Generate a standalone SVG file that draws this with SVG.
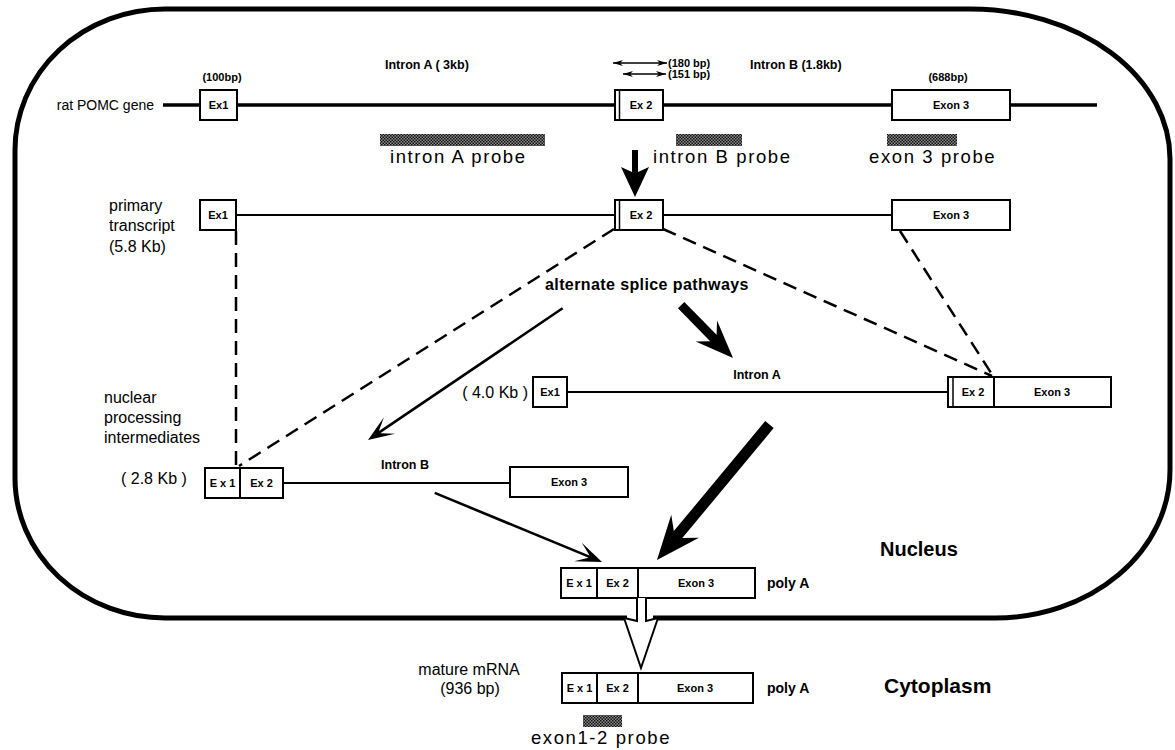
<svg xmlns="http://www.w3.org/2000/svg" width="1175" height="750" viewBox="0 0 1175 750">
<style>
.b{font-family:"Liberation Sans",Arial,sans-serif;font-weight:bold;fill:#000}
.r{font-family:"Liberation Sans",Arial,sans-serif;fill:#000}
.bx{font-size:11px;text-anchor:middle}
.box{fill:#fff;stroke:#000;stroke-width:2}
.ln{stroke:#000;fill:none}
.dash{stroke:#000;stroke-width:2.5;fill:none;stroke-dasharray:14 8}
.pr{font-size:18.5px;letter-spacing:1.6px}
</style>
<defs>
<pattern id="hatch" width="3" height="3" patternUnits="userSpaceOnUse">
<rect width="3" height="3" fill="#8a8a8a"/>
<rect width="1.5" height="1.5" fill="#111"/>
<rect x="1.5" y="1.5" width="1.5" height="1.5" fill="#111"/>
</pattern>
<marker id="dh" viewBox="0 0 10 6" refX="10" refY="3" markerWidth="10" markerHeight="6" markerUnits="userSpaceOnUse" orient="auto-start-reverse">
<path d="M0,0 L10,3 L0,6 L3,3 Z" fill="#000"/>
</marker>
</defs>

<g id="nucleus-border">
<path class="ln" stroke-width="5" d="M165,9 L970,9 A200,150 0 0 1 1170,159 L1170,470 A175,148 0 0 1 995,618 L653,618 M627,618 L165,618 A150,140 0 0 1 15,478 L15,150 A150,141 0 0 1 165,9"/>
</g>

<g id="gene">
<text class="r" x="154" y="110" font-size="14" text-anchor="end">rat POMC gene</text>
<line class="ln" x1="163" y1="105" x2="1097" y2="105" stroke-width="3.5"/>
<rect class="box" x="200" y="90" width="37" height="30"/>
<text class="b bx" x="218.5" y="109">Ex1</text>
<rect class="box" x="615" y="90" width="48" height="30"/>
<line class="ln" x1="619.5" y1="90" x2="619.5" y2="120" stroke-width="1.5"/>
<text class="b bx" x="641" y="109">Ex 2</text>
<rect class="box" x="892" y="90" width="118" height="30"/>
<text class="b bx" x="951" y="109">Exon 3</text>
<text class="b" x="222" y="81" font-size="11" text-anchor="middle">(100bp)</text>
<text class="b" x="385" y="69" font-size="12.5">Intron A ( 3kb)</text>
<text class="b" x="750" y="69" font-size="12.5">Intron B (1.8kb)</text>
<text class="b" x="948" y="81" font-size="11" text-anchor="middle">(688bp)</text>
<line class="ln" x1="613" y1="63" x2="667" y2="63" stroke-width="1.6" marker-start="url(#dh)" marker-end="url(#dh)"/>
<line class="ln" x1="623" y1="74" x2="666" y2="74" stroke-width="1.6" marker-start="url(#dh)" marker-end="url(#dh)"/>
<text class="b" x="668" y="67" font-size="11">(180 bp)</text>
<text class="b" x="668" y="78" font-size="11">(151 bp)</text>
</g>

<g id="probes">
<rect x="380" y="134" width="165" height="12" fill="url(#hatch)"/>
<rect x="676" y="134" width="66" height="12" fill="url(#hatch)"/>
<rect x="887" y="134" width="70" height="12" fill="url(#hatch)"/>
<text class="r pr" x="390" y="163">intron A probe</text>
<text class="r pr" x="653" y="163">intron B probe</text>
<text class="r pr" x="869" y="163">exon 3 probe</text>
</g>

<g id="primary-transcript">
<text class="r" x="109" y="211" font-size="16">primary</text>
<text class="r" x="109" y="231" font-size="16">transcript</text>
<text class="r" x="109" y="252" font-size="16">(5.8 Kb)</text>
<line class="ln" x1="236" y1="215" x2="892" y2="215" stroke-width="2"/>
<rect class="box" x="200" y="200" width="36" height="30"/>
<text class="b bx" x="218" y="219">Ex1</text>
<rect class="box" x="615" y="200" width="48" height="30"/>
<line class="ln" x1="619.5" y1="200" x2="619.5" y2="230" stroke-width="1.5"/>
<text class="b bx" x="641" y="219">Ex 2</text>
<rect class="box" x="892" y="200" width="118" height="30"/>
<text class="b bx" x="951" y="219">Exon 3</text>
</g>

<g id="intermediate-4kb">
<text class="r" x="528" y="398" font-size="16" text-anchor="end">( 4.0 Kb )</text>
<line class="ln" x1="567" y1="392" x2="948" y2="392" stroke-width="2.2"/>
<rect class="box" x="533" y="377" width="34" height="30"/>
<text class="b bx" x="550" y="396">Ex1</text>
<rect class="box" x="948" y="377" width="46" height="30"/>
<line class="ln" x1="953" y1="377" x2="953" y2="407" stroke-width="1.5"/>
<text class="b bx" x="973" y="396">Ex 2</text>
<rect class="box" x="994" y="377" width="117" height="30"/>
<text class="b bx" x="1052" y="396">Exon 3</text>
<text class="b" x="757" y="379" font-size="12.5" text-anchor="middle">Intron A</text>
</g>

<g id="intermediate-2-8kb">
<text class="r" x="104" y="403" font-size="16">nuclear</text>
<text class="r" x="104" y="423" font-size="16">processing</text>
<text class="r" x="104" y="443" font-size="16">intermediates</text>
<text class="r" x="121" y="484" font-size="16">( 2.8 Kb )</text>
<line class="ln" x1="283" y1="483" x2="510" y2="483" stroke-width="2"/>
<rect class="box" x="205" y="468" width="35" height="30"/>
<text class="b bx" x="222.5" y="487">E x 1</text>
<rect class="box" x="240" y="468" width="43" height="30"/>
<text class="b bx" x="261.5" y="487">Ex 2</text>
<rect class="box" x="510" y="467" width="118" height="30"/>
<text class="b bx" x="569" y="486">Exon 3</text>
<text class="b" x="405" y="469" font-size="12.5" text-anchor="middle">Intron B</text>
</g>

<g id="label-splice">
<text class="b" x="545" y="290" font-size="16" letter-spacing="0.4">alternate splice pathways</text>
</g>

<g id="nuclear-mrna">
<rect class="box" x="561" y="568" width="194" height="30"/>
<line class="ln" x1="597" y1="568" x2="597" y2="598" stroke-width="2"/>
<line class="ln" x1="638" y1="568" x2="638" y2="598" stroke-width="2"/>
<text class="b bx" x="579" y="587">E x 1</text>
<text class="b bx" x="617.5" y="587">Ex 2</text>
<text class="b bx" x="696" y="587">Exon 3</text>
<text class="b" x="767" y="588" font-size="14">poly A</text>
</g>

<g id="mature-mrna">
<text class="r" x="469" y="675" font-size="16" text-anchor="middle">mature mRNA</text>
<text class="r" x="470" y="694" font-size="16" text-anchor="middle">(936 bp)</text>
<rect class="box" x="562" y="673" width="191" height="30"/>
<line class="ln" x1="597" y1="673" x2="597" y2="703" stroke-width="2"/>
<line class="ln" x1="638" y1="673" x2="638" y2="703" stroke-width="2"/>
<text class="b bx" x="579.5" y="692">E x 1</text>
<text class="b bx" x="617.5" y="692">Ex 2</text>
<text class="b bx" x="695" y="692">Exon 3</text>
<text class="b" x="767" y="693" font-size="14">poly A</text>
<rect x="583" y="715" width="39" height="12" fill="url(#hatch)"/>
<text class="r pr" x="601" y="744" text-anchor="middle">exon1-2 probe</text>
</g>

<g id="compartments">
<text class="b" x="880" y="556" font-size="20">Nucleus</text>
<text class="b" x="884" y="693" font-size="21">Cytoplasm</text>
</g>

<g id="connectors">
<path class="dash" d="M236,231 L236,466"/>
<path class="dash" d="M614,229 L239,466"/>
<path class="dash" d="M663,229 L992,376"/>
<path class="dash" d="M900,231 L993,376"/>
<g transform="translate(635,197) rotate(90)"><path d="M0,0 L-30,-14 L-25,-3 L-47,-3 L-47,3 L-25,3 L-30,14 Z" fill="#000"/></g>
<g transform="translate(733,358) rotate(45.5)"><path d="M0,0 L-38,-15 L-28,-4.5 L-74,-4.5 L-74,4.5 L-28,4.5 L-38,15 Z" fill="#000"/></g>
<g transform="translate(657,560) rotate(129.7)"><path d="M0,0 L-44,-18 L-33,-5.5 L-176,-5.5 L-176,5.5 L-33,5.5 L-44,18 Z" fill="#000"/></g>
<g transform="translate(368,440) rotate(145.9)"><path d="M0,0 L-26,-10 L-14,-1.3 L-235,-1.3 L-235,1.3 L-14,1.3 L-26,10 Z" fill="#000"/></g>
<g transform="translate(602,562) rotate(22.45)"><path d="M0,0 L-26,-10 L-14,-1.3 L-181,-1.3 L-181,1.3 L-14,1.3 L-26,10 Z" fill="#000"/></g>
<path d="M637,598 L637,621 L624,618 L641,668 L658,618 L646,621 L646,598" fill="#fff" stroke="#000" stroke-width="2" stroke-linejoin="miter"/>
</g>
</svg>
